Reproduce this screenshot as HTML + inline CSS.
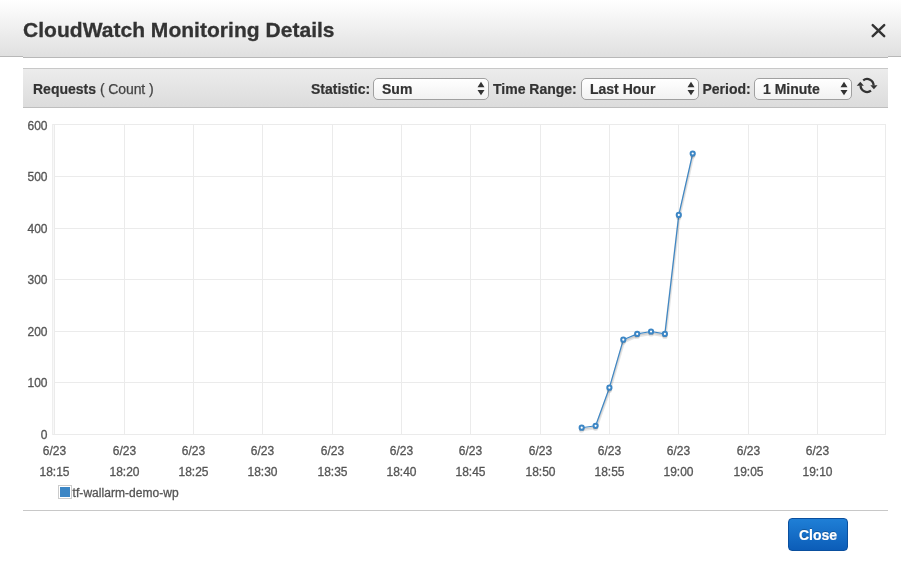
<!DOCTYPE html>
<html><head><meta charset="utf-8"><title>CloudWatch Monitoring Details</title>
<style>
html,body{margin:0;padding:0;background:#fff;}
body{width:901px;height:562px;overflow:hidden;position:relative;font-family:"Liberation Sans",Arial,Helvetica,sans-serif;color:#333;}
#wrap{position:absolute;left:0;top:0;width:901px;height:562px;will-change:transform;}
.hd{position:absolute;left:0;top:0;width:901px;height:56px;background:linear-gradient(#ffffff,#e0e0e0);border-bottom:1px solid #b8b8b8;}
.hd2{position:absolute;left:23px;top:56px;width:865px;height:1px;background:#e0e0e0;border-bottom:1px solid #b8b8b8;}
.hd h1{-webkit-text-stroke:0.3px #333;position:absolute;left:23px;top:17px;margin:0;font-size:21px;line-height:25px;font-weight:bold;color:#333;white-space:nowrap;letter-spacing:0.03px;}
.x{position:absolute;left:871px;top:23px;width:15px;height:15px;overflow:visible;}
.tb{-webkit-text-stroke:0.2px #333;position:absolute;left:23px;top:68px;width:865px;height:38px;background:linear-gradient(#ececec,#dcdcdc);border-top:1px solid #c8c8c8;border-bottom:1px solid #bebebe;font-size:14px;font-weight:bold;}
.tb span{position:absolute;top:11px;line-height:18px;white-space:nowrap;}
.tb .n{font-weight:normal;color:#444;-webkit-text-stroke:0.25px #444;letter-spacing:-0.1px;}
.sel{position:absolute;top:9px;height:19.5px;border:1px solid #a0a0a0;border-radius:5px;background:linear-gradient(#ffffff,#f2f2f2);box-sizing:content-box;}
.sel b{position:absolute;left:8px;top:0.5px;line-height:18px;font-size:14px;}
.sel svg{position:absolute;right:3.3px;top:3.4px;}
.chart{position:absolute;left:0;top:110px;}
.tk{font-size:12px;fill:#555;stroke:#555;stroke-width:0.3px;font-family:"Liberation Sans",Arial,sans-serif;}
.lg{-webkit-text-stroke:0.3px #555;position:absolute;left:58px;top:485px;font-size:12px;line-height:16px;color:#555;white-space:nowrap;}
.lg i{position:absolute;left:0;top:0;width:10px;height:10px;border:1px solid #ccc;padding:1px;box-sizing:content-box;background:#fff;}
.lg i:after{content:"";display:block;width:10px;height:10px;background:#3c86c5;}
.lg span{position:absolute;left:14.6px;top:0px;letter-spacing:0.04px;}
.ft{position:absolute;left:23px;top:510px;width:865px;height:1px;background:#c8c8c8;}
.btn{position:absolute;left:788px;top:518px;width:58px;height:31px;border:1px solid #0a4f9e;border-radius:4px;background:linear-gradient(#1f7fd6,#0c5db8);color:#fff;font-size:14px;font-weight:bold;text-align:center;line-height:33px;text-shadow:0 -1px 0 rgba(0,0,0,0.25);-webkit-text-stroke:0.2px #fff;}
</style></head><body>
<div id="wrap">
<div class="hd"><h1>CloudWatch Monitoring Details</h1>
<svg class="x" viewBox="0 0 15 15"><path d="M1.7 2.1 L13.2 13.2 M13.2 2.1 L1.7 13.2" stroke="#333" stroke-width="2.45" stroke-linecap="round" fill="none"/></svg>
</div>
<div class="hd2"></div>
<div class="tb">
<span style="left:10px">Requests <span class="n" style="position:static">( Count )</span></span>
<span style="left:288px">Statistic:</span>
<div class="sel" style="left:350px;width:114px"><b>Sum</b><svg width="8" height="13" viewBox="0 0 8 13" style="overflow:visible"><path d="M4 -0.3 L7.5 5.2 L0.5 5.2 Z M4 13.3 L7.5 7.9 L0.5 7.9 Z" fill="#333"/></svg></div>
<span style="left:470px">Time Range:</span>
<div class="sel" style="left:558px;width:116px"><b>Last Hour</b><svg width="8" height="13" viewBox="0 0 8 13" style="overflow:visible"><path d="M4 -0.3 L7.5 5.2 L0.5 5.2 Z M4 13.3 L7.5 7.9 L0.5 7.9 Z" fill="#333"/></svg></div>
<span style="left:679.5px">Period:</span>
<div class="sel" style="left:731px;width:96px"><b>1 Minute</b><svg width="8" height="13" viewBox="0 0 8 13" style="overflow:visible"><path d="M4 -0.3 L7.5 5.2 L0.5 5.2 Z M4 13.3 L7.5 7.9 L0.5 7.9 Z" fill="#333"/></svg></div>
<svg style="position:absolute;left:832px;top:6px;overflow:visible" width="26" height="22" viewBox="0 0 26 22"><path d="M8.2 5.3 A6.5 6.5 0 0 1 18.6 10.5" fill="none" stroke="#333" stroke-width="2.3"/><path d="M15.3 10.3 L22.5 10.3 L18.9 14.2 Z" fill="#333"/><path d="M16.0 15.7 A6.5 6.5 0 0 1 5.6 10.5" fill="none" stroke="#333" stroke-width="2.3"/><path d="M1.7 10.7 L8.9 10.7 L5.3 6.8 Z" fill="#333"/></svg>
</div>
<svg class="chart" width="901" height="400" viewBox="0 110 901 400">
<rect x="124" y="125" width="1" height="309" fill="#ebebeb"/>
<rect x="193" y="125" width="1" height="309" fill="#ebebeb"/>
<rect x="262" y="125" width="1" height="309" fill="#ebebeb"/>
<rect x="332" y="125" width="1" height="309" fill="#ebebeb"/>
<rect x="401" y="125" width="1" height="309" fill="#ebebeb"/>
<rect x="470" y="125" width="1" height="309" fill="#ebebeb"/>
<rect x="540" y="125" width="1" height="309" fill="#ebebeb"/>
<rect x="609" y="125" width="1" height="309" fill="#ebebeb"/>
<rect x="678" y="125" width="1" height="309" fill="#ebebeb"/>
<rect x="748" y="125" width="1" height="309" fill="#ebebeb"/>
<rect x="817" y="125" width="1" height="309" fill="#ebebeb"/>
<rect x="53" y="176" width="832" height="1" fill="#ebebeb"/>
<rect x="53" y="228" width="832" height="1" fill="#ebebeb"/>
<rect x="53" y="279" width="832" height="1" fill="#ebebeb"/>
<rect x="53" y="331" width="832" height="1" fill="#ebebeb"/>
<rect x="53" y="382" width="832" height="1" fill="#ebebeb"/>
<rect x="52" y="124" width="834" height="1" fill="#ebebeb"/>
<rect x="52" y="434" width="834" height="1" fill="#ebebeb"/>
<rect x="885" y="124" width="1" height="311" fill="#ebebeb"/>
<rect x="52" y="124" width="1" height="311" fill="#eeeeee"/>
<rect x="53" y="125" width="1" height="309" fill="#f8f8f8"/>
<rect x="54" y="124" width="1" height="311" fill="#ebebeb"/>
<path d="M582.06 429.77 L595.96 427.87 L609.76 389.77 L623.66 341.77 L637.56 335.97 L651.41 333.57 L665.26 335.97 L679.16 216.97 L693.06 155.57" fill="none" stroke="#000" stroke-opacity="0.1" stroke-width="3" stroke-linejoin="round"/>
<path d="M581.93 429.03 L595.83 427.13 L609.63 389.03 L623.53 341.03 L637.43 335.23 L651.28 332.83 L665.13 335.23 L679.03 216.23 L692.93 154.83" fill="none" stroke="#000" stroke-opacity="0.1" stroke-width="1.5" stroke-linejoin="round"/>
<path d="M581.70 427.70 L595.60 425.80 L609.40 387.70 L623.30 339.70 L637.20 333.90 L651.05 331.50 L664.90 333.90 L678.80 214.90 L692.70 153.50" fill="none" stroke="#3c86c5" stroke-width="1.15" stroke-linejoin="round"/>
<path d="M579.60 429.95 A2.1 2.1 0 0 0 583.80 429.95" fill="none" stroke="#000" stroke-opacity="0.1" stroke-width="1.5"/>
<path d="M579.60 428.45 A2.1 2.1 0 0 0 583.80 428.45" fill="none" stroke="#000" stroke-opacity="0.2" stroke-width="1.5"/>
<path d="M593.50 428.05 A2.1 2.1 0 0 0 597.70 428.05" fill="none" stroke="#000" stroke-opacity="0.1" stroke-width="1.5"/>
<path d="M593.50 426.55 A2.1 2.1 0 0 0 597.70 426.55" fill="none" stroke="#000" stroke-opacity="0.2" stroke-width="1.5"/>
<path d="M607.30 389.95 A2.1 2.1 0 0 0 611.50 389.95" fill="none" stroke="#000" stroke-opacity="0.1" stroke-width="1.5"/>
<path d="M607.30 388.45 A2.1 2.1 0 0 0 611.50 388.45" fill="none" stroke="#000" stroke-opacity="0.2" stroke-width="1.5"/>
<path d="M621.20 341.95 A2.1 2.1 0 0 0 625.40 341.95" fill="none" stroke="#000" stroke-opacity="0.1" stroke-width="1.5"/>
<path d="M621.20 340.45 A2.1 2.1 0 0 0 625.40 340.45" fill="none" stroke="#000" stroke-opacity="0.2" stroke-width="1.5"/>
<path d="M635.10 336.15 A2.1 2.1 0 0 0 639.30 336.15" fill="none" stroke="#000" stroke-opacity="0.1" stroke-width="1.5"/>
<path d="M635.10 334.65 A2.1 2.1 0 0 0 639.30 334.65" fill="none" stroke="#000" stroke-opacity="0.2" stroke-width="1.5"/>
<path d="M648.95 333.75 A2.1 2.1 0 0 0 653.15 333.75" fill="none" stroke="#000" stroke-opacity="0.1" stroke-width="1.5"/>
<path d="M648.95 332.25 A2.1 2.1 0 0 0 653.15 332.25" fill="none" stroke="#000" stroke-opacity="0.2" stroke-width="1.5"/>
<path d="M662.80 336.15 A2.1 2.1 0 0 0 667.00 336.15" fill="none" stroke="#000" stroke-opacity="0.1" stroke-width="1.5"/>
<path d="M662.80 334.65 A2.1 2.1 0 0 0 667.00 334.65" fill="none" stroke="#000" stroke-opacity="0.2" stroke-width="1.5"/>
<path d="M676.70 217.15 A2.1 2.1 0 0 0 680.90 217.15" fill="none" stroke="#000" stroke-opacity="0.1" stroke-width="1.5"/>
<path d="M676.70 215.65 A2.1 2.1 0 0 0 680.90 215.65" fill="none" stroke="#000" stroke-opacity="0.2" stroke-width="1.5"/>
<path d="M690.60 155.75 A2.1 2.1 0 0 0 694.80 155.75" fill="none" stroke="#000" stroke-opacity="0.1" stroke-width="1.5"/>
<path d="M690.60 154.25 A2.1 2.1 0 0 0 694.80 154.25" fill="none" stroke="#000" stroke-opacity="0.2" stroke-width="1.5"/>
<circle cx="581.7" cy="427.7" r="2.1" fill="#fff" stroke="#3c86c5" stroke-width="2"/>
<circle cx="595.6" cy="425.8" r="2.1" fill="#fff" stroke="#3c86c5" stroke-width="2"/>
<circle cx="609.4" cy="387.7" r="2.1" fill="#fff" stroke="#3c86c5" stroke-width="2"/>
<circle cx="623.3" cy="339.7" r="2.1" fill="#fff" stroke="#3c86c5" stroke-width="2"/>
<circle cx="637.2" cy="333.9" r="2.1" fill="#fff" stroke="#3c86c5" stroke-width="2"/>
<circle cx="651.05" cy="331.5" r="2.1" fill="#fff" stroke="#3c86c5" stroke-width="2"/>
<circle cx="664.9" cy="333.9" r="2.1" fill="#fff" stroke="#3c86c5" stroke-width="2"/>
<circle cx="678.8" cy="214.9" r="2.1" fill="#fff" stroke="#3c86c5" stroke-width="2"/>
<circle cx="692.7" cy="153.5" r="2.1" fill="#fff" stroke="#3c86c5" stroke-width="2"/>
<text x="47.5" y="129.7" text-anchor="end" class="tk">600</text>
<text x="47.5" y="180.7" text-anchor="end" class="tk">500</text>
<text x="47.5" y="232.7" text-anchor="end" class="tk">400</text>
<text x="47.5" y="283.7" text-anchor="end" class="tk">300</text>
<text x="47.5" y="335.7" text-anchor="end" class="tk">200</text>
<text x="47.5" y="386.7" text-anchor="end" class="tk">100</text>
<text x="47.5" y="438.7" text-anchor="end" class="tk">0</text>
<text x="54.5" y="455.2" text-anchor="middle" class="tk">6/23</text>
<text x="54.5" y="476.2" text-anchor="middle" class="tk">18:15</text>
<text x="124.5" y="455.2" text-anchor="middle" class="tk">6/23</text>
<text x="124.5" y="476.2" text-anchor="middle" class="tk">18:20</text>
<text x="193.5" y="455.2" text-anchor="middle" class="tk">6/23</text>
<text x="193.5" y="476.2" text-anchor="middle" class="tk">18:25</text>
<text x="262.5" y="455.2" text-anchor="middle" class="tk">6/23</text>
<text x="262.5" y="476.2" text-anchor="middle" class="tk">18:30</text>
<text x="332.5" y="455.2" text-anchor="middle" class="tk">6/23</text>
<text x="332.5" y="476.2" text-anchor="middle" class="tk">18:35</text>
<text x="401.5" y="455.2" text-anchor="middle" class="tk">6/23</text>
<text x="401.5" y="476.2" text-anchor="middle" class="tk">18:40</text>
<text x="470.5" y="455.2" text-anchor="middle" class="tk">6/23</text>
<text x="470.5" y="476.2" text-anchor="middle" class="tk">18:45</text>
<text x="540.5" y="455.2" text-anchor="middle" class="tk">6/23</text>
<text x="540.5" y="476.2" text-anchor="middle" class="tk">18:50</text>
<text x="609.5" y="455.2" text-anchor="middle" class="tk">6/23</text>
<text x="609.5" y="476.2" text-anchor="middle" class="tk">18:55</text>
<text x="678.5" y="455.2" text-anchor="middle" class="tk">6/23</text>
<text x="678.5" y="476.2" text-anchor="middle" class="tk">19:00</text>
<text x="748.5" y="455.2" text-anchor="middle" class="tk">6/23</text>
<text x="748.5" y="476.2" text-anchor="middle" class="tk">19:05</text>
<text x="817.5" y="455.2" text-anchor="middle" class="tk">6/23</text>
<text x="817.5" y="476.2" text-anchor="middle" class="tk">19:10</text>
</svg>
<div class="lg"><i></i><span>tf-wallarm-demo-wp</span></div>
<div class="ft"></div>
<div class="btn">Close</div>
</div>
</body></html>
